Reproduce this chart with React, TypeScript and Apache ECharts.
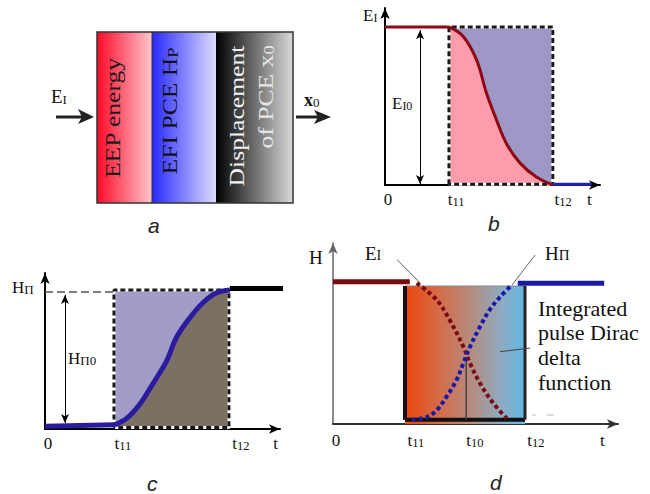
import React, { useEffect, useRef } from 'react';
import * as echarts from 'echarts';

const SERIF = 'Liberation Serif';
const SANS = 'Liberation Sans';

// ---------- Panel b: E_I(t) ----------
const bFlatT = [0, 3.05];
const bFlatE = [1, 1];
const bCurveT = [3.05, 3.73, 4.37, 4.84, 5.32, 5.8, 6.43, 7.22, 8.0];
const bCurveE = [1.0, 0.94, 0.79, 0.58, 0.41, 0.26, 0.14, 0.05, 0.0];
const bTailT = [8.0, 9.85];
const bTailE = [0.005, 0.005];
const bT11 = 3.05;
const bT12 = 8.0;
const bArrowT = 1.67;
const bArrowE = [0.98, 0.006];
const bLabelAt = [0, 3.25, 8.35, 9.6];
const bLabels = ['0', 't11', 't12', 't'];

// ---------- Panel c: H_P(t) ----------
const cHeadT = [0, 3.04];
const cHeadH = [0.02, 0.03];
const cCurveT = [3.04, 3.55, 4.13, 4.71, 5.29, 5.72, 6.3, 6.88, 7.47, 8.04];
const cCurveH = [0.03, 0.076, 0.18, 0.33, 0.49, 0.66, 0.8, 0.91, 0.98, 1.0];
const cTailT = [8.04, 10.35];
const cTailH = [1.01, 1.01];
const cT11 = 3.0;
const cT12 = 8.0;
const cLevel = 0.985;
const cArrowT = 0.87;
const cArrowH = [0.964, 0.043];
const cLabelAt = [0, 3.26, 8.39, 9.9];
const cLabels = ['0', 't11', 't12', 't'];

// ---------- Panel d: both curves ----------
const dT11 = 3.0;
const dT12 = 8.0;
const dT10 = 5.55;
const dT10Top = 0.46;
const dRedFlatT = [0, 3.2];
const dRedFlatH = [1.03, 1.03];
const dBlueFlatT = [7.7, 11.3];
const dBlueFlatH = [1.02, 1.02];
const dRedT = [3.49, 4.32, 4.875, 5.43, 5.71, 6.125, 6.68, 7.24];
const dRedH = [1.02, 0.9, 0.75, 0.56, 0.44, 0.295, 0.15, 0.04];
const dBlueT = [3.28, 3.9, 4.32, 4.74, 5.15, 5.43, 5.71, 6.125, 6.54, 6.96, 7.375];
const dBlueH = [0.03, 0.05, 0.1, 0.2, 0.32, 0.44, 0.56, 0.705, 0.83, 0.92, 0.995];
const dLeaderE = [[2.67, 1.19], [3.62, 1.025]];
const dLeaderH = [[8.42, 1.225], [7.46, 1.007]];
const dLeaderPulse = [[6.96, 0.524], [8.21, 0.55]];
const dLabelAt = [0, 3.33, 5.79, 8.33, 11.1];
const dLabels = ['0', 't11', 't10', 't12', 't'];
const dNoteLines = ['Integrated', 'pulse Dirac', 'delta', 'function'];

const pairs = (xs: number[], ys: number[]) => xs.map((x, i) => [x, ys[i]]);

const tickRich = {
  m: { fontFamily: SERIF, fontSize: 17, color: '#111', verticalAlign: 'bottom' },
  s: { fontFamily: SERIF, fontSize: 12.5, color: '#111', verticalAlign: 'bottom' },
};
const fmtLabel = (lab: string) =>
  lab.length > 1 ? `{m|${lab[0]}}{s|${lab.slice(1)}}` : `{m|${lab}}`;

function xAxisCfg(gi: number, max: number, at: number[], labels: string[], color: string, width: number, margin: number) {
  return {
    type: 'value', gridIndex: gi, min: 0, max,
    splitLine: { show: false },
    axisTick: { show: false },
    axisLine: { show: true, onZero: false, symbol: ['none', 'arrow'], symbolSize: [7, 11], lineStyle: { color, width } },
    axisLabel: {
      show: true, margin, customValues: at, padding: [0, 0, 0, 6],
      fontFamily: SERIF, fontSize: 17, color: '#111',
      formatter: (v: number) => { const i = at.indexOf(v); return i >= 0 ? fmtLabel(labels[i]) : ''; },
      rich: tickRich,
    },
  };
}
function yAxisCfg(gi: number, max: number, color: string, width: number) {
  return {
    type: 'value', gridIndex: gi, min: 0, max,
    splitLine: { show: false }, axisTick: { show: false }, axisLabel: { show: false },
    axisLine: { show: true, onZero: false, symbol: ['none', 'arrow'], symbolSize: [7, 11], lineStyle: { color, width } },
  };
}

function line(gi: number, data: any[], color: string, width: number, extra: any = {}) {
  const { lineType, ...rest } = extra;
  return {
    type: 'line', xAxisIndex: gi, yAxisIndex: gi, data, symbol: 'none', silent: true,
    lineStyle: { color, width, type: lineType || 'solid', cap: 'butt' },
    ...rest,
  };
}
function area(gi: number, data: any[], fill: any, extra: any = {}) {
  return {
    type: 'line', xAxisIndex: gi, yAxisIndex: gi, data, symbol: 'none', silent: true,
    lineStyle: { width: 0 }, areaStyle: { color: fill, opacity: 1 }, ...extra,
  };
}
function dblArrow(x: number, y0: number, y1: number) {
  return {
    silent: true, symbol: ['arrow', 'arrow'], symbolSize: [6, 9], label: { show: false },
    lineStyle: { color: '#000', width: 1, type: 'solid' }, emphasis: { disabled: true },
    data: [[{ coord: [x, y0] }, { coord: [x, y1] }]],
  };
}

function label(x: number, y: number, main: string, sub: string, size: number, subSize: number, align = 'left') {
  return {
    type: 'text', x, y, silent: true,
    style: {
      text: sub ? `{m|${main}}{s|${sub}}` : `{m|${main}}`,
      fontFamily: SERIF, fontSize: size, fill: '#111',
      rich: {
        m: { fontFamily: SERIF, fontSize: size, fill: '#111', verticalAlign: 'bottom' },
        s: { fontFamily: SERIF, fontSize: subSize, fill: '#111', verticalAlign: 'bottom' },
      },
      align, textAlign: align, verticalAlign: 'middle', textVerticalAlign: 'middle',
    },
  };
}
function plain(x: number, y: number, text: string, size: number, fill: string, font = SERIF, fontStyle = 'normal') {
  return {
    type: 'text', x, y, silent: true,
    style: {
      text: `{m|${text}}`, fontFamily: font, fontSize: size, fill, fontStyle,
      rich: { m: { fontFamily: font, fontSize: size, fill, fontStyle } },
      align: 'left', textAlign: 'left', verticalAlign: 'middle', textVerticalAlign: 'middle',
    },
  };
}
function vtext(x: number, y: number, main: string, sub: string, fill: string) {
  return {
    type: 'text', x, y, rotation: Math.PI / 2, scaleX: 1.22, silent: true,
    style: {
      text: sub ? `{m|${main}}{s|${sub}}` : `{m|${main}}`,
      fontFamily: SERIF, fontSize: 21, fill,
      rich: {
        m: { fontFamily: SERIF, fontSize: 21, fill, verticalAlign: 'bottom' },
        s: { fontFamily: SERIF, fontSize: 15, fill, verticalAlign: 'bottom' },
      },
      align: 'center', textAlign: 'center', verticalAlign: 'middle', textVerticalAlign: 'middle',
    },
  };
}
const lg = (stops: [number, string][]) =>
  new echarts.graphic.LinearGradient(0, 0, 1, 0, stops.map(([offset, color]) => ({ offset, color })));

export default function App() {
  const ref = useRef<HTMLDivElement>(null);
  useEffect(() => {
    if (!ref.current) return;
    const chart = echarts.init(ref.current, null, { renderer: 'svg' });
    const rectB = [[bT11, 0.005], [bT11, 1], [bT12, 1], [bT12, 0.005], [bT11, 0.005]];
    const rectC = [[cT11, 0.01], [cT11, 1], [cT12, 1], [cT12, 0.01], [cT11, 0.01]];
    const sm = { smooth: 0.35 };

    const option: any = {
      animation: false,
      backgroundColor: '#ffffff',
      textStyle: { fontFamily: SERIF },
      grid: [
        { left: 385, top: 8, width: 215, height: 177, containLabel: false, outerBoundsMode: 'none' },
        { left: 45, top: 273, width: 235, height: 156, containLabel: false, outerBoundsMode: 'none' },
        { left: 333, top: 243, width: 285, height: 181, containLabel: false, outerBoundsMode: 'none' },
      ],
      xAxis: [
        xAxisCfg(0, 10.25, bLabelAt, bLabels, '#000', 2, 6),
        xAxisCfg(1, 10.22, cLabelAt, cLabels, '#000', 2, 6),
        xAxisCfg(2, 11.875, dLabelAt, dLabels, '#333', 2, 8),
      ],
      yAxis: [
        yAxisCfg(0, 1.12, '#000', 2),
        yAxisCfg(1, 1.122, '#000', 2),
        yAxisCfg(2, 1.3116, '#666', 1.5),
      ],
      series: [
        // b
        area(0, [[bT11, 1], [bT12, 1]], '#9e98c7'),
        area(0, pairs(bCurveT, bCurveE), '#ff9cab', sm),
        line(0, rectB, '#ffffff', 3),
        line(0, rectB, '#1a1a1a', 3, { lineType: [5, 3] }),
        line(0, pairs(bFlatT, bFlatE), '#8b0a16', 3),
        line(0, pairs(bCurveT, bCurveE), '#8b0a16', 3, { ...sm, markLine: dblArrow(bArrowT, bArrowE[0], bArrowE[1]) }),
        line(0, pairs(bTailT, bTailE), '#2323b4', 3),
        // c
        area(1, [[cT11, 1], [cT12, 1]], '#a29cc9'),
        area(1, pairs(cCurveT, cCurveH), '#7b7163', sm),
        line(1, rectC, '#ffffff', 3),
        line(1, rectC, '#1a1a1a', 3, { lineType: [5, 3] }),
        line(1, [[0, cLevel], [cT11, cLevel]], '#555555', 1.5, { lineType: [8, 4], markLine: dblArrow(cArrowT, cArrowH[0], cArrowH[1]) }),
        line(1, pairs(cHeadT, cHeadH), '#2b1b9e', 5),
        line(1, pairs(cCurveT, cCurveH), '#2b1b9e', 5, sm),
        line(1, pairs(cTailT, cTailH), '#000000', 5, { clip: false }),
        // d
        area(2, [[dT11, 1], [dT12, 1]], lg([[0, '#ea450c'], [0.3, '#d46e4c'], [0.55, '#b48c80'], [0.8, '#8eaac0'], [1, '#62b9e6']])),
        line(2, [[dT11, 1], [dT12, 1]], '#888888', 1),
        line(2, [[dT11, 0.03], [dT11, 1.0]], '#111111', 4),
        line(2, [[dT11, 0.03], [dT12, 0.03]], '#111111', 4),
        line(2, [[dT12, 0.03], [dT12, 1.0]], '#222222', 3),
        line(2, [[dT10, 0.03], [dT10, dT10Top]], '#444444', 1.5),
        line(2, pairs(dRedFlatT, dRedFlatH), '#7a0a12', 5),
        line(2, pairs(dBlueFlatT, dBlueFlatH), '#1a1aa0', 5, { clip: false }),
        line(2, pairs(dRedT, dRedH), '#7a0a12', 4, { ...sm, lineType: [4, 3] }),
        line(2, pairs(dBlueT, dBlueH), '#1a1aa8', 4, { ...sm, lineType: [4, 3] }),
        line(2, dLeaderE, '#666666', 1),
        line(2, dLeaderH, '#666666', 1),
        line(2, dLeaderPulse, '#444444', 1),
        line(2, [[8.3, 0.065], [8.45, 0.065]], '#bbbbbb', 1),
        line(2, [[8.9, 0.065], [9.2, 0.065]], '#bbbbbb', 1),
      ],
      graphic: [
        // panel a blocks
        { type: 'rect', silent: true, shape: { x: 97, y: 32, width: 55, height: 171 }, style: { fill: lg([[0, '#ff0a28'], [1, '#ffc6ce']]) } },
        { type: 'rect', silent: true, shape: { x: 152, y: 32, width: 64, height: 171 }, style: { fill: lg([[0, '#2828ff'], [1, '#dcdcff']]) } },
        { type: 'rect', silent: true, shape: { x: 216, y: 32, width: 77, height: 171 }, style: { fill: lg([[0, '#000000'], [1, '#dadada']]) } },
        { type: 'rect', silent: true, shape: { x: 97, y: 32, width: 196, height: 171 }, style: { fill: 'none', stroke: '#333', lineWidth: 1.5 } },
        { type: 'line', silent: true, shape: { x1: 152, y1: 32, x2: 152, y2: 203 }, style: { stroke: '#333', lineWidth: 1 } },
        vtext(113, 118, 'EEP energy', '', '#1a1a1a'),
        vtext(170, 111, 'EFI PCE H', 'P', '#111'),
        vtext(237, 116, 'Displacement', '', '#f2f2f2'),
        vtext(266, 97, 'of PCE x', '0', '#e6e6e6'),
        // arrows
        { type: 'line', silent: true, shape: { x1: 56, y1: 117, x2: 84, y2: 117 }, style: { stroke: '#222', lineWidth: 3 } },
        { type: 'polygon', silent: true, shape: { points: [[78, 109], [94, 117], [78, 124], [82, 117]] }, style: { fill: '#222' } },
        { type: 'line', silent: true, shape: { x1: 296, y1: 117, x2: 320, y2: 117 }, style: { stroke: '#222', lineWidth: 3 } },
        { type: 'polygon', silent: true, shape: { points: [[314, 110], [331, 117], [314, 124], [318, 117]] }, style: { fill: '#222' } },
        label(51, 96, 'E', 'I', 19, 13),
        {
          type: 'text', x: 304, y: 100, silent: true,
          style: {
            text: '{m|x}{s|0}', fontFamily: SERIF, fontSize: 18, fill: '#111',
            rich: {
              m: { fontFamily: SERIF, fontSize: 18, fontWeight: 'bold', fill: '#111', verticalAlign: 'bottom' },
              s: { fontFamily: SERIF, fontSize: 13, fill: '#111', verticalAlign: 'bottom' },
            },
            align: 'left', textAlign: 'left', verticalAlign: 'middle', textVerticalAlign: 'middle',
          },
        },
        // panel b labels
        label(363, 15, 'E', 'I', 17, 12),
        label(392, 103, 'E', 'I0', 17, 12),
        // panel c labels
        label(12, 287, 'H', 'Π', 17, 13),
        label(68, 358, 'H', 'Π0', 17, 13),
        // panel d labels
        label(309, 257, 'H', '', 19, 13),
        label(365, 253, 'E', 'I', 19, 14),
        label(545, 253, 'H', 'Π', 19, 15),
        ...dNoteLines.map((t, i) => plain(538, 308 + i * 24.7, t, 22, '#111')),
        // panel letters
        plain(148, 225, 'a', 21, '#222', SANS, 'italic'),
        plain(488, 223, 'b', 21, '#222', SANS, 'italic'),
        plain(147, 483, 'c', 21, '#222', SANS, 'italic'),
        plain(490, 482, 'd', 21, '#222', SANS, 'italic'),
      ],
    };
    chart.setOption(option);
    return () => chart.dispose();
  }, []);
  return <div ref={ref} style={{ position: 'fixed', left: 0, top: 0, width: 650, height: 494, background: '#fff' }} />;
}
